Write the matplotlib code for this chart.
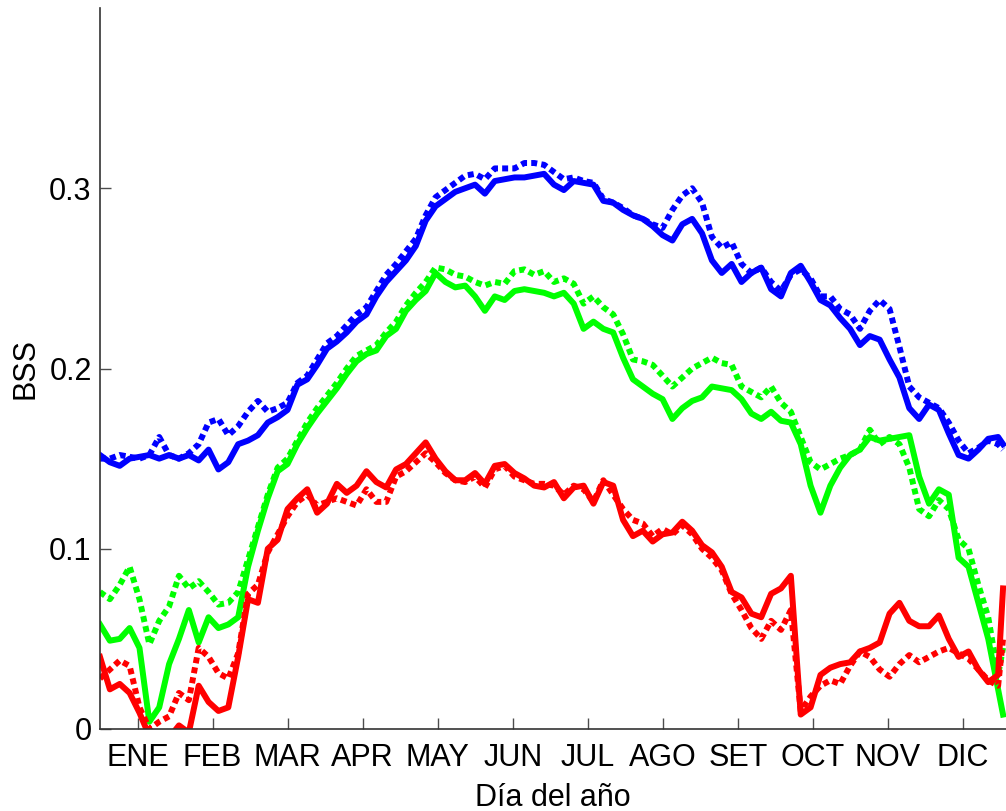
import numpy as np
import matplotlib
matplotlib.use('Agg')
import matplotlib.pyplot as plt

plt.rcParams['font.family'] = ['Liberation Sans', 'DejaVu Sans']

# day of year sampled every 4 days (last point day 366)
dias = list(range(0, 365, 4)) + [366]

bss_azul = [0.152, 0.148, 0.146, 0.150, 0.151, 0.152, 0.150, 0.152, 0.150, 0.152,
            0.149, 0.155, 0.144, 0.148, 0.158, 0.160, 0.163, 0.170, 0.173, 0.177,
            0.191, 0.194, 0.202, 0.211, 0.215, 0.220, 0.226, 0.230, 0.240, 0.248,
            0.254, 0.260, 0.268, 0.282, 0.290, 0.294, 0.298, 0.300, 0.302, 0.297,
            0.304, 0.305, 0.306, 0.306, 0.307, 0.308, 0.302, 0.299, 0.304, 0.303,
            0.302, 0.293, 0.292, 0.288, 0.285, 0.283, 0.279, 0.274, 0.271, 0.280,
            0.283, 0.275, 0.260, 0.253, 0.258, 0.248, 0.253, 0.256, 0.244, 0.240,
            0.253, 0.257, 0.248, 0.238, 0.235, 0.228, 0.222, 0.213, 0.218, 0.216,
            0.205, 0.195, 0.178, 0.172, 0.180, 0.177, 0.164, 0.152, 0.150, 0.155,
            0.161, 0.162, 0.158]
bss_azul_p = [0.150, 0.150, 0.152, 0.151, 0.150, 0.152, 0.162, 0.152, 0.150, 0.153,
              0.158, 0.170, 0.172, 0.163, 0.168, 0.176, 0.182, 0.176, 0.178, 0.181,
              0.192, 0.196, 0.205, 0.214, 0.218, 0.224, 0.230, 0.234, 0.243, 0.252,
              0.258, 0.265, 0.272, 0.285, 0.295, 0.299, 0.303, 0.307, 0.308, 0.305,
              0.311, 0.311, 0.311, 0.314, 0.314, 0.313, 0.309, 0.305, 0.306, 0.304,
              0.303, 0.294, 0.292, 0.289, 0.285, 0.283, 0.280, 0.278, 0.288, 0.296,
              0.300, 0.292, 0.273, 0.267, 0.270, 0.258, 0.253, 0.256, 0.248, 0.243,
              0.252, 0.255, 0.250, 0.240, 0.240, 0.233, 0.230, 0.222, 0.232, 0.238,
              0.233, 0.212, 0.190, 0.184, 0.181, 0.178, 0.170, 0.160, 0.153, 0.156,
              0.160, 0.158, 0.155]

bss_verde = [0.058, 0.049, 0.050, 0.056, 0.045, 0.004, 0.012, 0.036, 0.050, 0.066,
             0.048, 0.062, 0.056, 0.058, 0.062, 0.090, 0.110, 0.128, 0.143, 0.147,
             0.158, 0.167, 0.175, 0.182, 0.189, 0.197, 0.204, 0.208, 0.210, 0.218,
             0.222, 0.232, 0.238, 0.243, 0.253, 0.248, 0.245, 0.246, 0.240, 0.232,
             0.240, 0.238, 0.243, 0.244, 0.243, 0.242, 0.240, 0.242, 0.236, 0.222,
             0.226, 0.222, 0.220, 0.206, 0.194, 0.190, 0.186, 0.183, 0.172, 0.178,
             0.182, 0.184, 0.190, 0.189, 0.188, 0.183, 0.175, 0.172, 0.176, 0.171,
             0.170, 0.158, 0.135, 0.120, 0.135, 0.145, 0.152, 0.155, 0.162, 0.160,
             0.161, 0.162, 0.163, 0.140, 0.125, 0.133, 0.130, 0.095, 0.090, 0.070,
             0.050, 0.022, 0.008]
bss_verde_p = [0.076, 0.072, 0.080, 0.090, 0.072, 0.047, 0.060, 0.068, 0.085, 0.078,
               0.082, 0.076, 0.069, 0.070, 0.076, 0.094, 0.112, 0.130, 0.145, 0.150,
               0.160, 0.170, 0.178, 0.185, 0.192, 0.200, 0.207, 0.210, 0.213, 0.220,
               0.226, 0.235, 0.242, 0.248, 0.256, 0.255, 0.252, 0.251, 0.248, 0.246,
               0.248, 0.247, 0.254, 0.255, 0.252, 0.254, 0.248, 0.250, 0.247, 0.236,
               0.240, 0.234, 0.230, 0.219, 0.205, 0.204, 0.202, 0.196, 0.190, 0.195,
               0.200, 0.203, 0.206, 0.203, 0.202, 0.190, 0.187, 0.184, 0.190, 0.181,
               0.176, 0.162, 0.148, 0.144, 0.147, 0.150, 0.152, 0.155, 0.166, 0.158,
               0.162, 0.158, 0.145, 0.122, 0.118, 0.127, 0.122, 0.105, 0.100, 0.080,
               0.062, 0.030, 0.045]

bss_rojo = [0.040, 0.022, 0.025, 0.020, 0.009, -0.004, -0.008, -0.005, 0.002, -0.002,
            0.024, 0.015, 0.010, 0.012, 0.040, 0.072, 0.070, 0.100, 0.105, 0.122,
            0.128, 0.133, 0.120, 0.125, 0.136, 0.131, 0.135, 0.143, 0.137, 0.134,
            0.144, 0.147, 0.153, 0.159, 0.150, 0.143, 0.138, 0.138, 0.142, 0.136,
            0.146, 0.147, 0.142, 0.139, 0.135, 0.134, 0.137, 0.128, 0.134, 0.135,
            0.125, 0.137, 0.135, 0.116, 0.107, 0.110, 0.104, 0.108, 0.109, 0.115,
            0.110, 0.102, 0.098, 0.090, 0.076, 0.073, 0.064, 0.062, 0.075, 0.078,
            0.085, 0.008, 0.012, 0.030, 0.034, 0.036, 0.037, 0.043, 0.045, 0.048,
            0.064, 0.070, 0.060, 0.057, 0.057, 0.063, 0.050, 0.040, 0.043, 0.033,
            0.026, 0.030, 0.078]
bss_rojo_p = [0.028, 0.033, 0.038, 0.035, 0.012, 0.000, 0.004, 0.007, 0.020, 0.016,
              0.045, 0.040, 0.031, 0.028, 0.042, 0.075, 0.080, 0.098, 0.108, 0.118,
              0.126, 0.130, 0.124, 0.126, 0.128, 0.126, 0.124, 0.133, 0.126, 0.126,
              0.140, 0.143, 0.148, 0.153, 0.148, 0.142, 0.138, 0.137, 0.140, 0.134,
              0.144, 0.146, 0.140, 0.138, 0.136, 0.136, 0.135, 0.130, 0.135, 0.133,
              0.126, 0.138, 0.130, 0.122, 0.116, 0.114, 0.107, 0.111, 0.108, 0.113,
              0.108, 0.100, 0.095, 0.088, 0.075, 0.066, 0.056, 0.050, 0.060, 0.055,
              0.066, 0.010, 0.018, 0.024, 0.027, 0.025, 0.035, 0.043, 0.040, 0.033,
              0.029, 0.036, 0.041, 0.037, 0.040, 0.043, 0.045, 0.042, 0.039, 0.033,
              0.027, 0.024, 0.050]

meses = ['ENE', 'FEB', 'MAR', 'APR', 'MAY', 'JUN', 'JUL', 'AGO', 'SET', 'OCT', 'NOV', 'DIC']

fig = plt.figure(figsize=(10.06, 8.11), dpi=100)
ax = fig.add_axes([100 / 1006, 1 - 729 / 811, 906 / 1006, 721 / 811])

lw = 4.3
punteado = (0, (1, 0.7))
ax.plot(dias, bss_azul, color=(0, 0, 1), lw=lw)
ax.plot(dias, bss_azul_p, color=(0, 0, 1), lw=lw, ls=punteado)
ax.plot(dias, bss_verde, color=(0, 1, 0), lw=lw)
ax.plot(dias, bss_verde_p, color=(0, 1, 0), lw=lw, ls=punteado)
ax.plot(dias, bss_rojo, color=(1, 0, 0), lw=lw)
ax.plot(dias, bss_rojo_p, color=(1, 0, 0), lw=lw, ls=punteado)

ax.set_xlim(0, 367.2)
ax.set_ylim(0, 0.4)
ax.set_xticks(np.arange(12) * 365 / 12 + 365 / 24)
ax.set_xticklabels(meses)
ax.set_yticks([0, 0.1, 0.2, 0.3])
ax.set_yticklabels(['0', '0.1', '0.2', '0.3'])

for s in ['top', 'right']:
    ax.spines[s].set_visible(False)
for s in ['left', 'bottom']:
    ax.spines[s].set_color('0.2')
    ax.spines[s].set_linewidth(1.2)

ax.tick_params(direction='in', length=8, width=1, color='0.3', labelsize=22)
ax.tick_params(axis='x', pad=10)
ax.tick_params(axis='y', pad=6)

ax.set_xlabel('Día del año', fontsize=22, labelpad=7)
ax.set_ylabel('BSS', fontsize=22, labelpad=6)

fig.savefig('out.png', dpi=100)
